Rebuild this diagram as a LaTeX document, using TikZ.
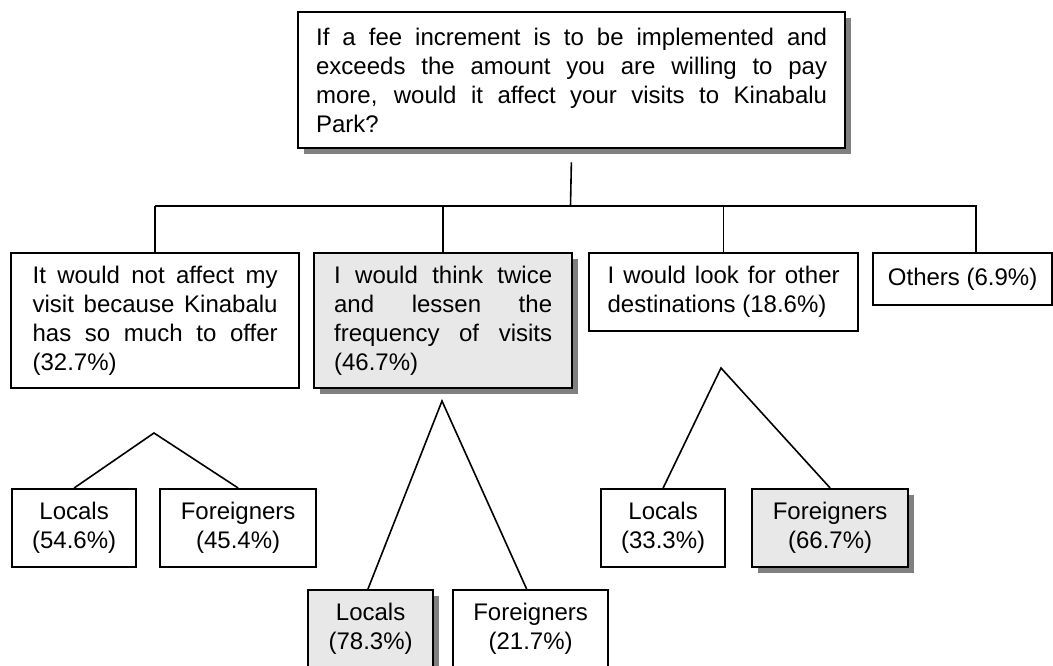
\documentclass[tikz,border=0pt]{standalone}
\usepackage{fontspec}
\setmainfont{Liberation Sans}
\usetikzlibrary{shadows}
\definecolor{boxgray}{RGB}{232,232,232}
\definecolor{shadowgray}{RGB}{128,128,128}
\tolerance=9999

\begin{document}
\begin{tikzpicture}[x=0.75pt,y=-0.75pt]
    \tikzset{box/.style={draw,line width=1.7pt,anchor=north west,align=justify,inner ysep=0pt,
            font=\fontsize{18}{21.75}\selectfont},
        answer/.style={box,align=center,minimum height=58.5pt},
        raised/.style={drop shadow={shadow xshift=4.5pt,shadow yshift=-4.5pt,fill=shadowgray,opacity=1}},
        marked/.style={fill=boxgray},
        branch/.style={line width=1.2pt}}
    \useasboundingbox (0,0) rectangle (1053,666);
    \clip (0,0) rectangle (1053,666);

    \node[box,raised,fill=white,text width=383.25pt,inner xsep=13.5pt,minimum height=102pt] (question) at (297,11)
        {If a fee increment is to be implemented and\linebreak exceeds the amount you are willing to pay\linebreak more, would it affect your visits to Kinabalu\linebreak Park?};

    \node[box,text width=183.75pt,inner xsep=16.125pt,minimum height=101.25pt] (notaffect) at (10,252)
        {It would not affect my\linebreak visit because Kinabalu\linebreak has so much to offer\linebreak (32.7\%)};
    \node[box,marked,raised,text width=163.5pt,inner xsep=15pt,minimum height=101.25pt] (thinktwice) at (313,252)
        {I would think twice\linebreak and lessen the\linebreak frequency of visits\linebreak (46.7\%)};
    \node[box,text width=174pt,inner xsep=13.875pt,minimum height=58.5pt] (lookelse) at (588,252)
        {I would look for other\linebreak destinations (18.6\%)};
    \node[box,align=center,minimum width=134.25pt,minimum height=39pt] (others) at (872,252) {Others (6.9\%)};

    \node[answer,minimum width=93pt] (nalocal) at (11,488) {Locals\\(54.6\%)};
    \node[answer,minimum width=117pt] (naforeign) at (159,488) {Foreigners\\(45.4\%)};
    \node[answer,marked,raised,minimum width=93.75pt] (ttlocal) at (307,589) {Locals\\(78.3\%)};
    \node[answer,minimum width=116.25pt] (ttforeign) at (452,589) {Foreigners\\(21.7\%)};
    \node[answer,minimum width=93pt] (lelocal) at (600,488) {Locals\\(33.3\%)};
    \node[answer,marked,raised,minimum width=117pt] (leforeign) at (751,488) {Foreigners\\(66.7\%)};

    \coordinate (fork) at (570.5,206);
    \coordinate (dropD) at (976,206);
    \coordinate (apexA) at (154,433);
    \coordinate (apexB) at (442,401);
    \coordinate (apexC) at (721,368);

    % fork under the question
    \draw[branch,shorten <=9.75pt] (question.south) -- (fork);
    \draw[branch] (notaffect.north |- fork) -- (dropD) -- (others.north -| dropD);
    \foreach \n in {notaffect,thinktwice,lookelse}
        \draw[branch] (\n.north) -- (\n.north |- fork);

    % splits by visitor type
    \draw[branch] (nalocal.north) -- (apexA) -- (naforeign.north);
    \draw[branch] ([xshift=-2pt]ttlocal.north) -- (apexB) -- ([xshift=-3pt]ttforeign.north);
    \draw[branch] (lelocal.north) -- (apexC) -- (leforeign.north);
\end{tikzpicture}
\end{document}
